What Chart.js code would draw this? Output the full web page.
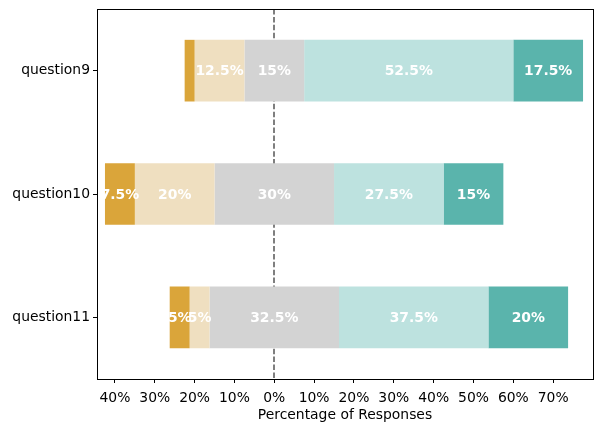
<!DOCTYPE html>
<html>
<head>
<meta charset="utf-8">
<script src="https://cdn.jsdelivr.net/npm/chart.js@4/dist/chart.umd.min.js"></script>
<style>
  html, body { margin: 0; padding: 0; background: #fff; }
  #wrap { width: 603px; height: 432px; }
</style>
</head>
<body>
<div id="wrap"><canvas id="likertChart"></canvas></div>
<script>
// questions, top to bottom
const questions = ["question9", "question10", "question11"]

// response levels, left to right
const levels = ["Strongly disagree", "Disagree", "Neutral", "Agree", "Strongly agree"]
const levelColors = ["#daa53a", "#efdfc0", "#d3d3d3", "#bde2df", "#5ab4ac"]

// percentages per level, one entry per question
const stronglyDisagree = [2.5, 7.5, 5]
const disagree = [12.5, 20, 5]
const neutral = [15, 30, 32.5]
const agree = [52.5, 27.5, 37.5]
const stronglyAgree = [17.5, 15, 20]

const xTicks = [-40, -30, -20, -10, 0, 10, 20, 30, 40, 50, 60, 70]

const series = [stronglyDisagree, disagree, neutral, agree, stronglyAgree]

// floating bars centred on the middle of the neutral block
function buildDatasets(){
    const starts = questions.map((q, i) =>
        -(stronglyDisagree[i] + disagree[i] + neutral[i] / 2)
    )
    const cursor = starts.slice()
    return series.map((vals, s) => {
        const data = vals.map((v, i) => {
            const a = cursor[i]
            cursor[i] = a + v
            return [a, a + v]
        })
        return {
            label: levels[s],
            data: data,
            values: vals,
            backgroundColor: levelColors[s],
            borderWidth: 0,
            grouped: false,
            barPercentage: 1,
            categoryPercentage: 0.5
        }
    })
}

const zeroLine = {
    id: "zeroLine",
    beforeDatasetsDraw(chart){
        const x = Math.round(chart.scales.x.getPixelForValue(0))
        const a = chart.chartArea
        const c = chart.ctx
        c.save()
        c.strokeStyle = "#7f7f7f"
        c.lineWidth = 2
        c.setLineDash([5.5, 2.4])
        c.beginPath()
        c.moveTo(x, a.top)
        c.lineTo(x, a.bottom)
        c.stroke()
        c.restore()
    }
}

const barLabels = {
    id: "barLabels",
    afterDatasetsDraw(chart){
        const c = chart.ctx
        c.save()
        c.fillStyle = "#ffffff"
        c.font = "bold 13.9px 'DejaVu Sans'"
        c.textAlign = "center"
        c.textBaseline = "middle"
        chart.data.datasets.forEach((ds, d) => {
            const meta = chart.getDatasetMeta(d)
            meta.data.forEach((bar, i) => {
                const v = ds.values[i]
                if (v < 5) return
                const mid = chart.scales.x.getPixelForValue(ds.data[i][0] + v / 2)
                c.fillText(v + "%", mid, bar.y + 1)
            })
        })
        c.restore()
    }
}

const frame = {
    id: "frame",
    afterDraw(chart){
        const a = chart.chartArea
        const c = chart.ctx
        c.save()
        c.strokeStyle = "#000"
        c.lineWidth = 1
        c.strokeRect(Math.round(a.left) + 0.5, Math.round(a.top) + 0.5,
            Math.round(a.right - a.left), Math.round(a.bottom - a.top))
        c.restore()
    }
}

new Chart(
    document.getElementById("likertChart"),
    {
        type: "bar",
        data: {
            labels: questions,
            datasets: buildDatasets()
        },
        options: {
            indexAxis: "y",
            responsive: true,
            maintainAspectRatio: false,
            animation: false,
            layout: {
                padding: { top: 9, right: 10, bottom: 0, left: 0 }
            },
            plugins: {
                legend: { display: false },
                tooltip: { enabled: false }
            },
            scales: {
                x: {
                    min: -44.5,
                    max: 80,
                    afterBuildTicks(scale){
                        scale.ticks = xTicks.map(v => ({ value: v }))
                    },
                    afterFit(scale){
                        scale.height = 53
                        scale.paddingLeft = 0
                        scale.paddingRight = 0
                    },
                    grid: {
                        drawOnChartArea: false,
                        tickLength: 4,
                        color: "#000"
                    },
                    border: { color: "#000" },
                    ticks: {
                        color: "#000",
                        padding: 7,
                        maxRotation: 0,
                        autoSkip: false,
                        font: { family: "DejaVu Sans", size: 13.9 },
                        callback: v => Math.abs(v) + "%"
                    },
                    title: {
                        display: true,
                        text: "Percentage of Responses",
                        color: "#000",
                        padding: { top: 0, bottom: 8 },
                        font: { family: "DejaVu Sans", size: 13.9 }
                    }
                },
                y: {
                    afterFit(scale){
                        scale.width = 97
                        scale.paddingTop = 0
                        scale.paddingBottom = 0
                    },
                    grid: {
                        drawOnChartArea: false,
                        offset: false,
                        tickLength: 4,
                        color: "#000"
                    },
                    border: { color: "#000" },
                    ticks: {
                        color: "#000",
                        padding: 3,
                        font: { family: "DejaVu Sans", size: 13.9 }
                    }
                }
            }
        },
        plugins: [zeroLine, barLabels, frame]
    }
)
</script>
</body>
</html>
